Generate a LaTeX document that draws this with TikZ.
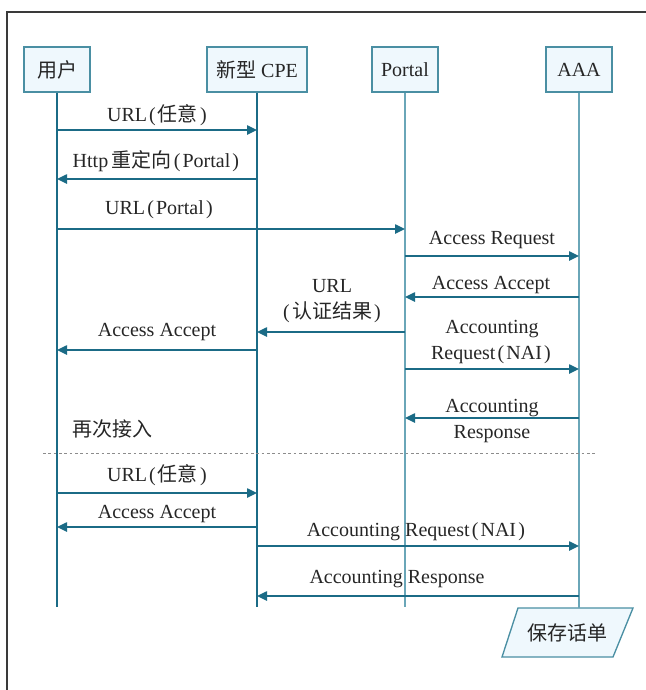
\documentclass[tikz,border=0pt]{standalone}
\usepackage{fontspec}
\setmainfont{Liberation Serif}
\newfontfamily\cjkfont{Noto Sans CJK SC}
\newcommand{\zh}[1]{{\cjkfont #1}}
\newcommand{\lp}{\kern1.6pt(\kern1.6pt}
\newcommand{\rp}{\kern1.6pt)\kern1.6pt}
\usetikzlibrary{arrows.meta}

\definecolor{msgcol}{HTML}{1B6B86}
\definecolor{lifecol}{HTML}{6AA6B8}
\definecolor{boxcol}{HTML}{4A8FA3}
\definecolor{boxfill}{HTML}{EFF8FD}
\definecolor{framecol}{HTML}{3A3A3A}

\begin{document}
\begin{tikzpicture}[x=0.75pt,y=-0.75pt,
  every node/.style={font=\fontsize{15}{19}\selectfont,text=black!85},
  actor/.style={draw=boxcol,fill=boxfill,line width=1pt,minimum width=49.5pt,minimum height=33.75pt,inner sep=2pt},
  life/.style={line width=0.9pt},
  msg/.style={draw=msgcol,line width=1.1pt,-{Triangle[length=7.5pt,width=7pt]}},
  lbl/.style={inner sep=0pt,align=center}]
  \useasboundingbox (0,0) rectangle (646,690);

  % frame
  \draw[color=framecol,line width=1.1pt] (646,12) -- (7,12) -- (7,690);

  % actors
  \node[actor] (user) at (57,69.5) {\zh{用户}};
  \node[actor,minimum width=75pt] (cpe) at (257,69.5) {\zh{新型} CPE};
  \node[actor] (portal) at (405,69.5) {Portal};
  \node[actor] (aaa) at (579,69.5) {AAA};

  % save bill
  \draw[draw=boxcol,fill=boxfill,line width=1pt] (518,608) -- (633,608) -- (613,657) -- (502,657) -- cycle;
  \node[lbl] (bill) at (567,633) {\zh{保存话单}};

  % lifelines
  \coordinate (userend) at (57,607);
  \coordinate (cpeend) at (257,607);
  \coordinate (portalend) at (405,607);
  \coordinate (aaaend) at (579,608);
  \draw[life,color=msgcol] (user) -- (userend);
  \draw[life,color=msgcol] (cpe) -- (cpeend);
  \draw[life,color=lifecol] (portal) -- (portalend);
  \draw[life,color=lifecol] (aaa) -- (aaaend);

  % first access
  \draw[msg] (user |- 0,130) -- (cpe |- 0,130);
  \node[lbl] (m1) at (158,115) {URL\lp\zh{任意}\rp};
  \draw[msg] (cpe |- 0,179) -- (user |- 0,179);
  \node[lbl] (m2) at (157,161) {Http\,\zh{重定向}\lp Portal\rp};
  \draw[msg] (user |- 0,229) -- (portal |- 0,229);
  \node[lbl] (m3) at (160,210) {URL\lp Portal\rp};
  \draw[msg] (portal |- 0,256) -- (aaa |- 0,256);
  \node[lbl] (m4) at (492,240) {Access Request};
  \draw[msg] (aaa |- 0,297) -- (portal |- 0,297);
  \node[lbl] (m5) at (491,285) {Access Accept};
  \draw[msg] (portal |- 0,332) -- (cpe |- 0,332);
  \node[lbl] (m6) at (332,301) {URL\\\lp\zh{认证结果}\rp};
  \draw[msg] (cpe |- 0,350) -- (user |- 0,350);
  \node[lbl] (m7) at (157,332) {Access Accept};
  \draw[msg] (portal |- 0,369) -- (aaa |- 0,369);
  \node[lbl] (m8) at (492,342) {Accounting\\Request\lp NAI\rp};
  \draw[msg] (aaa |- 0,418) -- (portal |- 0,418);
  \node[lbl] (m9) at (492,421) {Accounting\\Response};

  % access again
  \node[lbl,anchor=west] (again) at (72,429) {\zh{再次接入}};
  \draw[color=black!45,dash pattern=on 2pt off 2pt,line width=0.6pt] (43,453) -- (596,453);

  \draw[msg] (user |- 0,493) -- (cpe |- 0,493);
  \node[lbl] (m10) at (158,475) {URL\lp\zh{任意}\rp};
  \draw[msg] (cpe |- 0,527) -- (user |- 0,527);
  \node[lbl] (m11) at (157,514) {Access Accept};
  \draw[msg] (cpe |- 0,546) -- (aaa |- 0,546);
  \node[lbl] (m12) at (417,532) {Accounting Request\lp NAI\rp};
  \draw[msg] (aaa |- 0,596) -- (cpe |- 0,596);
  \node[lbl] (m13) at (397,579) {Accounting Response};
\end{tikzpicture}
\end{document}
